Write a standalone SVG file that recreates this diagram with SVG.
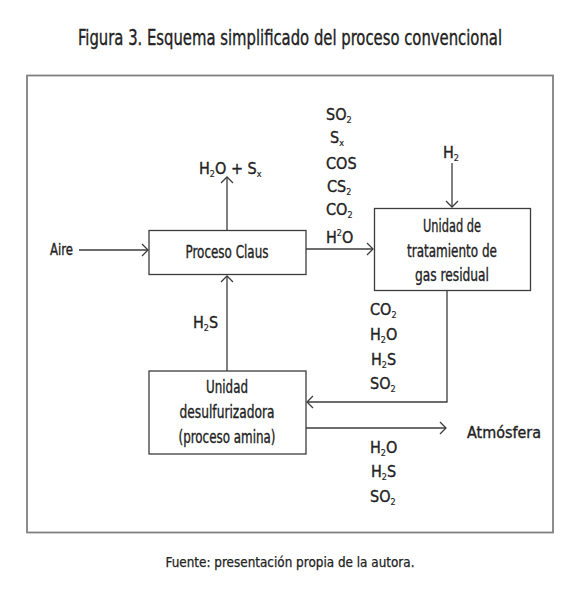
<svg xmlns="http://www.w3.org/2000/svg" width="580" height="591" viewBox="0 0 580 591">
<defs>
<style>
text{font-family:"Liberation Sans Narrow","DejaVu Sans Condensed","Liberation Sans",sans-serif;fill:#222;stroke:#222;stroke-width:0.35;}
.t{font-size:21px;}
.n{font-size:17.5px;text-anchor:middle;}
.l{font-size:16px;}
.s{font-size:9px;stroke-width:0.2;}
.box{fill:#fff;stroke:#3c3c3c;stroke-width:1.3;}
.c{fill:none;stroke:#3c3c3c;stroke-width:1.3;}
</style>
<marker id="ah" markerUnits="userSpaceOnUse" markerWidth="9" markerHeight="14" viewBox="0 0 9 14" refX="7.5" refY="7" orient="auto">
<path d="M1.5,1 L7.5,7 L1.5,13" fill="none" stroke="#3c3c3c" stroke-width="1.3"/>
</marker>
</defs>
<rect width="580" height="591" fill="#fff"/>
<text class="t" transform="translate(290,45) scale(0.8,1)" x="0" y="0" text-anchor="middle" textLength="530" lengthAdjust="spacingAndGlyphs">Figura 3. Esquema simplificado del proceso convencional</text>
<rect x="27" y="75.5" width="526" height="457" fill="none" stroke="#808080" stroke-width="1.8"/>

<g id="connectors">
<path class="c" d="M79,250 H148" marker-end="url(#ah)"/>
<path class="c" d="M306,249 H373" marker-end="url(#ah)"/>
<path class="c" d="M227,230.5 V177" marker-end="url(#ah)"/>
<path class="c" d="M452,163 V207" marker-end="url(#ah)"/>
<path class="c" d="M447,291 V402 H307" marker-end="url(#ah)"/>
<path class="c" d="M227,371 V276" marker-end="url(#ah)"/>
<path class="c" d="M306,428 H446" marker-end="url(#ah)"/>
</g>

<g id="claus">
<rect class="box" x="149" y="230.5" width="157" height="44"/>
<text class="n" x="227" y="258" textLength="83" lengthAdjust="spacingAndGlyphs">Proceso Claus</text>
</g>
<g id="tratamiento">
<rect class="box" x="374.5" y="208.5" width="156" height="82"/>
<text class="n" x="452" y="232" textLength="58" lengthAdjust="spacingAndGlyphs">Unidad de</text>
<text class="n" x="452" y="257" textLength="90" lengthAdjust="spacingAndGlyphs">tratamiento de</text>
<text class="n" x="452" y="281" textLength="74" lengthAdjust="spacingAndGlyphs">gas residual</text>
</g>
<g id="desulfurizadora">
<rect class="box" x="149" y="371" width="157" height="83"/>
<text class="n" x="227" y="393" textLength="42" lengthAdjust="spacingAndGlyphs">Unidad</text>
<text class="n" x="227" y="418" textLength="95" lengthAdjust="spacingAndGlyphs">desulfurizadora</text>
<text class="n" x="227" y="443" textLength="97" lengthAdjust="spacingAndGlyphs">(proceso amina)</text>
</g>

<g id="labels">
<text class="l" x="50" y="255" textLength="23" lengthAdjust="spacingAndGlyphs">Aire</text>
<text class="l" x="467" y="438" textLength="74" lengthAdjust="spacingAndGlyphs">Atmósfera</text>
<text class="l" x="199" y="174">H<tspan class="s" dy="3">2</tspan><tspan dy="-3">O + S</tspan><tspan class="s" dy="3">x</tspan></text>
<text class="l" x="326" y="120">SO<tspan class="s" dy="3">2</tspan></text>
<text class="l" x="330" y="143">S<tspan class="s" dy="3">x</tspan></text>
<text class="l" x="326" y="169">COS</text>
<text class="l" x="327" y="192">CS<tspan class="s" dy="3">2</tspan></text>
<text class="l" x="326" y="215">CO<tspan class="s" dy="3">2</tspan></text>
<text class="l" x="326" y="243">H<tspan class="s" dy="-7">2</tspan><tspan dy="7">O</tspan></text>
<text class="l" x="443" y="158">H<tspan class="s" dy="3">2</tspan></text>
<text class="l" x="193" y="328">H<tspan class="s" dy="3">2</tspan><tspan dy="-3">S</tspan></text>
<text class="l" x="370" y="315">CO<tspan class="s" dy="3">2</tspan></text>
<text class="l" x="370" y="340">H<tspan class="s" dy="3">2</tspan><tspan dy="-3">O</tspan></text>
<text class="l" x="371" y="365">H<tspan class="s" dy="3">2</tspan><tspan dy="-3">S</tspan></text>
<text class="l" x="370" y="389">SO<tspan class="s" dy="3">2</tspan></text>
<text class="l" x="370" y="453">H<tspan class="s" dy="3">2</tspan><tspan dy="-3">O</tspan></text>
<text class="l" x="371" y="477">H<tspan class="s" dy="3">2</tspan><tspan dy="-3">S</tspan></text>
<text class="l" x="370" y="502">SO<tspan class="s" dy="3">2</tspan></text>
</g>
<text x="290" y="567" font-size="14" text-anchor="middle" textLength="249" lengthAdjust="spacingAndGlyphs" style="stroke-width:0.25">Fuente: presentación propia de la autora.</text>
</svg>
